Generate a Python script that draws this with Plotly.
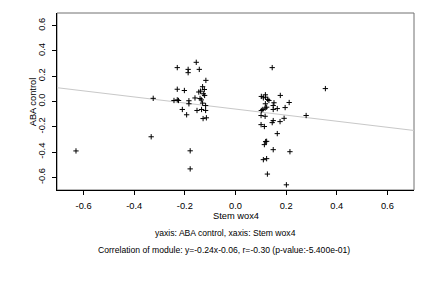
import plotly.graph_objects as go

# Data
stem_wox4 = [
    -0.630, -0.333, -0.325, -0.155, -0.230, -0.187, -0.187, -0.143, -0.117, -0.130,
    -0.230, -0.202, -0.123, -0.145, -0.138, -0.127, -0.122, -0.160, -0.140, -0.135,
    -0.243, -0.230, -0.225, -0.184, -0.184, -0.130, -0.118, -0.210, -0.152, -0.134,
    -0.118, -0.193, -0.128, -0.115, -0.179, -0.179,
    0.145, 0.355, 0.102, 0.118, 0.110, 0.119, 0.127, 0.132, 0.177, 0.152,
    0.212, 0.118, 0.149, 0.149, 0.165, 0.196, 0.123, 0.117, 0.108, 0.102,
    0.101, 0.117, 0.279, 0.192, 0.149, 0.145, 0.176, 0.101, 0.114, 0.165,
    0.123, 0.119, 0.114, 0.149, 0.215, 0.110, 0.123, 0.126, 0.201,
]
aba_control = [
    -0.391, -0.279, 0.025, 0.310, 0.268, 0.254, 0.228, 0.254, 0.167, 0.117,
    0.097, 0.087, 0.095, 0.075, 0.082, 0.061, 0.048, 0.028, 0.024, 0.013,
    0.008, 0.013, 0.008, 0.006, -0.018, -0.013, -0.032, -0.063, -0.071, -0.063,
    -0.071, -0.105, -0.135, -0.129, -0.390, -0.533,
    0.268, 0.102, 0.040, 0.053, 0.029, 0.034, 0.016, 0.008, 0.048, -0.010,
    -0.008, -0.018, -0.032, -0.063, -0.056, -0.048, -0.045, -0.053, -0.063, -0.071,
    -0.111, -0.117, -0.111, -0.133, -0.151, -0.167, -0.159, -0.183, -0.198, -0.254,
    -0.315, -0.317, -0.341, -0.381, -0.397, -0.460, -0.452, -0.574, -0.659,
]
fit_slope = -0.24
fit_intercept = -0.06

tick_values = [-0.6, -0.4, -0.2, 0.0, 0.2, 0.4, 0.6]
tick_labels = ["-0.6", "-0.4", "-0.2", "0.0", "0.2", "0.4", "0.6"]

x_title = "Stem wox4"
y_title = "ABA control"
line1 = "yaxis: ABA control, xaxis: Stem wox4"
line2 = "Correlation of module: y=-0.24x-0.06, r=-0.30 (p-value:-5.400e-01)"

X_RANGE = [-0.705, 0.705]
Y_RANGE = [-0.70, 0.70]

W, H = 432, 288
L, R, T, B = 57, 18, 13, 98
plot_w = W - L - R
plot_h = H - T - B

FONT = "Liberation Sans, Arial, Helvetica, sans-serif"

fig = go.Figure()

fit_x = X_RANGE
fit_y = [fit_slope * v + fit_intercept for v in fit_x]
fig.add_trace(go.Scatter(
    x=fit_x, y=fit_y, mode="lines",
    line=dict(color="#c8c8c8", width=1),
    hoverinfo="skip", showlegend=False,
))

fig.add_trace(go.Scatter(
    x=stem_wox4, y=aba_control, mode="markers",
    marker=dict(symbol="cross-thin", size=3.8, color="black",
                line=dict(color="black", width=1)),
    showlegend=False,
))

axis_common = dict(
    showgrid=False, zeroline=False, showline=True, linecolor="black", linewidth=1,
    ticks="outside", ticklen=4, tickwidth=1, tickcolor="black",
    tickvals=tick_values, ticktext=tick_labels,
    tickfont=dict(family=FONT, size=9.3, color="black"),
)

fig.update_layout(
    width=W, height=H,
    margin=dict(l=L, r=R, t=T, b=B, pad=0),
    paper_bgcolor="white", plot_bgcolor="white",
    xaxis=dict(range=X_RANGE, ticklabelstandoff=3, **axis_common),
    yaxis=dict(range=Y_RANGE, tickangle=-90, ticklabelstandoff=3, **axis_common),
    font=dict(family=FONT, size=9, color="black"),
)

# box
fig.add_shape(type="rect", xref="paper", yref="paper", x0=0, y0=0, x1=1, y1=1,
              line=dict(color="#707070", width=1), layer="below")


def px_to_paper_x(px):
    return (px - L) / plot_w


def add_text(text, cx, cy, size=9, angle=0):
    fig.add_annotation(
        text=text, xref="paper", yref="paper",
        x=px_to_paper_x(cx), y=(H - B - cy) / plot_h,
        xanchor="center", yanchor="middle", showarrow=False,
        textangle=angle, font=dict(family=FONT, size=size, color="black"),
    )


add_text(x_title, 236, 215.5, size=9.3)
add_text(y_title, 33.3, 102, size=9.3, angle=-90)
add_text(line1, 225, 233.3, size=8.6)
add_text(line2, 224, 250, size=8.6)

fig.write_html("out.html")
